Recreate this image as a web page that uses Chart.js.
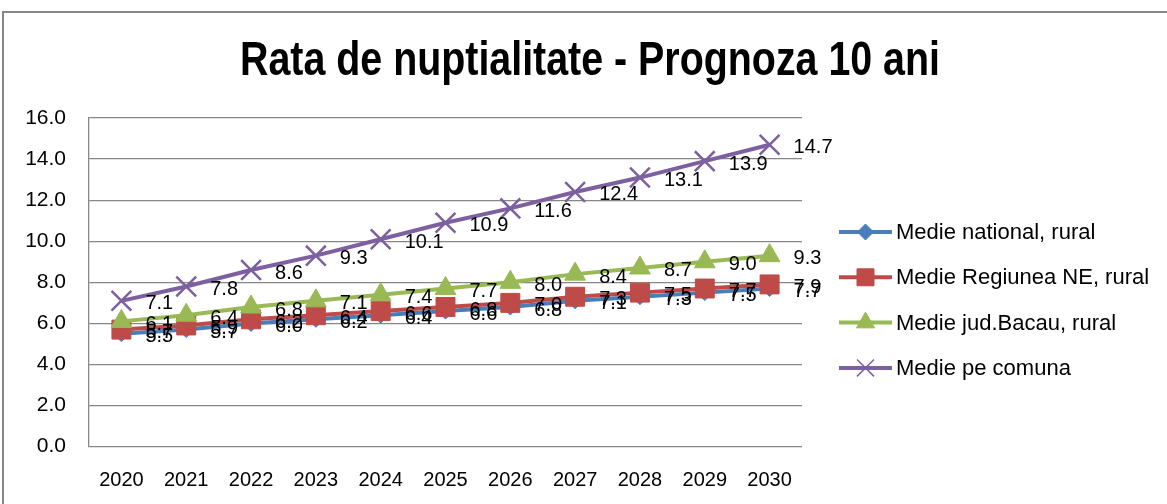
<!DOCTYPE html>
<html>
<head>
<meta charset="utf-8">
<script src="https://cdn.jsdelivr.net/npm/chart.js@4.4.1/dist/chart.umd.min.js"></script>
<style>
  html, body { margin: 0; padding: 0; background: #ffffff; }
  #wrap { position: relative; width: 1167px; height: 504px; overflow: hidden; background: #ffffff; }
  #frame { position: absolute; left: 2px; top: 11px; width: 1200px; height: 520px;
           border-top: 2px solid #878787; border-left: 2px solid #878787; }
  #c { position: absolute; left: 0; top: 0; }
</style>
</head>
<body>
<div id="wrap">
  <div id="frame"></div>
  <canvas id="c" width="1167" height="504"></canvas>
</div>
<script>
const chartTitle = 'Rata de nuptialitate - Prognoza 10 ani';
const years = ['2020', '2021', '2022', '2023', '2024', '2025', '2026', '2027', '2028', '2029', '2030'];
const seriesNames = ['Medie national, rural', 'Medie Regiunea NE, rural', 'Medie jud.Bacau, rural', 'Medie pe comuna'];
const nationalRural = [5.5, 5.7, 6.0, 6.2, 6.4, 6.6, 6.8, 7.1, 7.3, 7.5, 7.7];
const regiuneaNERural = [5.7, 5.9, 6.2, 6.4, 6.6, 6.8, 7.0, 7.3, 7.5, 7.7, 7.9];
const bacauRural = [6.1, 6.4, 6.8, 7.1, 7.4, 7.7, 8.0, 8.4, 8.7, 9.0, 9.3];
const medieComuna = [7.1, 7.8, 8.6, 9.3, 10.1, 10.9, 11.6, 12.4, 13.1, 13.9, 14.7];
const yMin = 0, yMax = 16, yStep = 2;

const colors = ['#4A7EBB', '#BE4B48', '#98B954', '#7D60A0'];
const styles = [
  { pointStyle: 'rectRot', radius: 8, bw: 1 },
  { pointStyle: 'rect', radius: 13.4, bw: 1 },
  { pointStyle: 'triangle', radius: 12, bw: 1 },
  { pointStyle: 'crossRot', radius: 14, bw: 2.5 }
];
const seriesData = [nationalRural, regiuneaNERural, bacauRural, medieComuna];

const FONT = "'Liberation Sans', Arial, sans-serif";

const datasets = seriesData.map((d, i) => ({
  label: seriesNames[i],
  data: d,
  borderColor: colors[i],
  backgroundColor: colors[i],
  borderWidth: 4,
  tension: 0,
  pointStyle: styles[i].pointStyle,
  pointRadius: styles[i].radius,
  pointHoverRadius: styles[i].radius,
  pointBackgroundColor: colors[i],
  pointBorderColor: colors[i],
  pointBorderWidth: styles[i].bw,
  order: 10 - i
}));

function drawMarker(ctx, style, r, x, y, color, bw) {
  ctx.save();
  ctx.fillStyle = color; ctx.strokeStyle = color; ctx.lineWidth = bw;
  ctx.beginPath();
  if (style === 'rectRot') {
    ctx.moveTo(x, y - r); ctx.lineTo(x + r, y); ctx.lineTo(x, y + r); ctx.lineTo(x - r, y); ctx.closePath();
    ctx.fill(); ctx.stroke();
  } else if (style === 'rect') {
    const s = r * Math.SQRT1_2;
    ctx.rect(x - s, y - s, 2 * s, 2 * s); ctx.fill(); ctx.stroke();
  } else if (style === 'triangle') {
    ctx.moveTo(x, y - r);
    ctx.lineTo(x + r * Math.sin(Math.PI / 3), y + r / 2);
    ctx.lineTo(x - r * Math.sin(Math.PI / 3), y + r / 2);
    ctx.closePath(); ctx.fill(); ctx.stroke();
  } else if (style === 'crossRot') {
    const s = r * Math.SQRT1_2;
    ctx.moveTo(x - s, y - s); ctx.lineTo(x + s, y + s);
    ctx.moveTo(x - s, y + s); ctx.lineTo(x + s, y - s);
    ctx.stroke();
  }
  ctx.restore();
}

const titlePlugin = {
  id: 'narrowTitle',
  afterDraw(chart) {
    const ctx = chart.ctx;
    ctx.save();
    ctx.font = 'bold 48px ' + FONT;
    const w = ctx.measureText(chartTitle).width;
    const sx = 700 / w;
    ctx.translate(590, 62);
    ctx.scale(sx, 1);
    ctx.fillStyle = '#000000';
    ctx.textAlign = 'center';
    ctx.textBaseline = 'middle';
    ctx.fillText(chartTitle, 0, 0);
    ctx.restore();
  }
};

const labelsPlugin = {
  id: 'valueLabels',
  afterDatasetsDraw(chart) {
    const ctx = chart.ctx;
    ctx.save();
    ctx.font = '20px ' + FONT;
    ctx.fillStyle = '#000000';
    ctx.textAlign = 'left';
    ctx.textBaseline = 'middle';
    chart.data.datasets.forEach((ds, i) => {
      const meta = chart.getDatasetMeta(i);
      meta.data.forEach((el, j) => {
        ctx.fillText(ds.data[j].toFixed(1), el.x + 24, el.y + 3);
      });
    });
    ctx.restore();
  }
};

const legendPlugin = {
  id: 'excelLegend',
  afterDraw(chart) {
    const ctx = chart.ctx;
    ctx.save();
    chart.data.datasets.forEach((ds, i) => {
      const y = 232 + i * 45.3;
      ctx.strokeStyle = colors[i];
      ctx.lineWidth = 4;
      ctx.beginPath(); ctx.moveTo(839, y); ctx.lineTo(892, y); ctx.stroke();
      const st = styles[i];
      const lr = st.pointStyle === 'rect' ? 12 : (st.pointStyle === 'rectRot' ? 8 : (st.pointStyle === 'triangle' ? 10.5 : 12));
      drawMarker(ctx, st.pointStyle, lr, 865.5, y, colors[i], st.pointStyle === 'crossRot' ? 1.5 : 1);
      ctx.font = '22px ' + FONT;
      ctx.fillStyle = '#000000';
      ctx.textAlign = 'left';
      ctx.textBaseline = 'middle';
      ctx.fillText(ds.label, 896, y + 1);
    });
    ctx.restore();
  }
};

new Chart(document.getElementById('c'), {
  type: 'line',
  data: { labels: years, datasets: datasets },
  options: {
    responsive: false,
    animation: false,
    events: [],
    layout: { padding: { left: 0, right: 365, top: 118, bottom: 0 } },
    plugins: {
      legend: { display: false },
      tooltip: { enabled: false },
      title: { display: false }
    },
    scales: {
      x: {
        type: 'category',
        offset: true,
        grid: { display: false, drawTicks: false },
        border: { display: false },
        ticks: { color: '#000000', font: { family: FONT, size: 20 }, padding: 22, maxRotation: 0, autoSkip: false },
        afterFit(scale) { scale.height = 57.3; }
      },
      y: {
        min: yMin, max: yMax,
        grid: { color: '#878787', lineWidth: 1.3, drawTicks: false },
        border: { display: true, color: '#878787', width: 1.3 },
        ticks: { stepSize: yStep, color: '#000000', font: { family: FONT, size: 21 }, padding: 23,
                 callback: (v) => Number(v).toFixed(1) },
        afterFit(scale) { scale.width = 89; }
      }
    }
  },
  plugins: [labelsPlugin, legendPlugin, titlePlugin]
});
</script>
</body>
</html>
